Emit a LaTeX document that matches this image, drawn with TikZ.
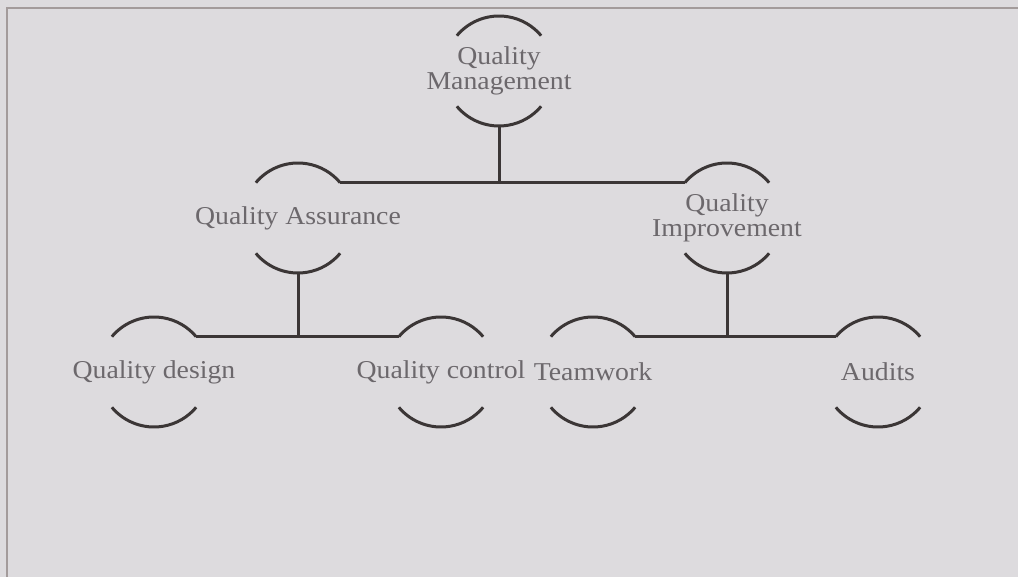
\documentclass[tikz,border=0pt]{standalone}
\usepackage{fontspec}
\setmainfont{Liberation Serif}[FakeStretch=1.08]

\definecolor{paper}{HTML}{DDDBDE}
\definecolor{ink}{HTML}{3B3636}
\definecolor{print}{HTML}{6C686C}
\definecolor{rule}{HTML}{A39B9B}

\tikzset{
  hub/.style={circle, minimum size=55pt, inner sep=0pt, outer sep=0pt},
  caption/.style={text=print, align=center, inner sep=0pt,
    font=\fontsize{12.85}{12.5}\selectfont},
  rim/.style={draw=ink, line width=1.5pt},
}

\begin{document}
\begin{tikzpicture}[x=0.5pt,y=0.5pt]
  \fill[paper] (0,0) rectangle (1018,-577);
  \useasboundingbox (0,0) rectangle (1018,-577);
  \draw[rule, line width=0.8pt] (7,-577) -- (7,-8) -- (1018,-8);

  \node[hub, label={[caption]center:{Quality\\Management}}] (qm) at (499,-71) {};
  \node[hub, label={[caption]center:Quality Assurance}] (qa) at (298,-218) {};
  \node[hub, label={[caption]center:{Quality\\Improvement}}] (qi) at (727,-218) {};
  \node[hub, label={[caption]center:Quality design}] (qd) at (154,-372) {};
  \node[hub, label={[caption]center:Quality control}] (qc) at (441,-372) {};
  \node[hub, label={[caption]center:Teamwork}] (tw) at (593,-372) {};
  \node[hub, label={[caption]center:Audits}] (au) at (878,-372) {};

  \foreach \n in {qm,qa,qi,qd,qc,tw,au} {
    \draw[rim] (\n.140) arc[start angle=140, end angle=40, radius=27.5pt];
    \draw[rim] (\n.220) arc[start angle=220, end angle=320, radius=27.5pt];
  }

  \draw[rim] (qa.40) -- (qi.140);
  \draw[rim] (qm.south) -- (qm.south |- qa.40);
  \draw[rim] (qd.40) -- (qc.140);
  \draw[rim] (qa.south) -- (qa.south |- qd.40);
  \draw[rim] (tw.40) -- (au.140);
  \draw[rim] (qi.south) -- (qi.south |- tw.40);
\end{tikzpicture}
\end{document}
